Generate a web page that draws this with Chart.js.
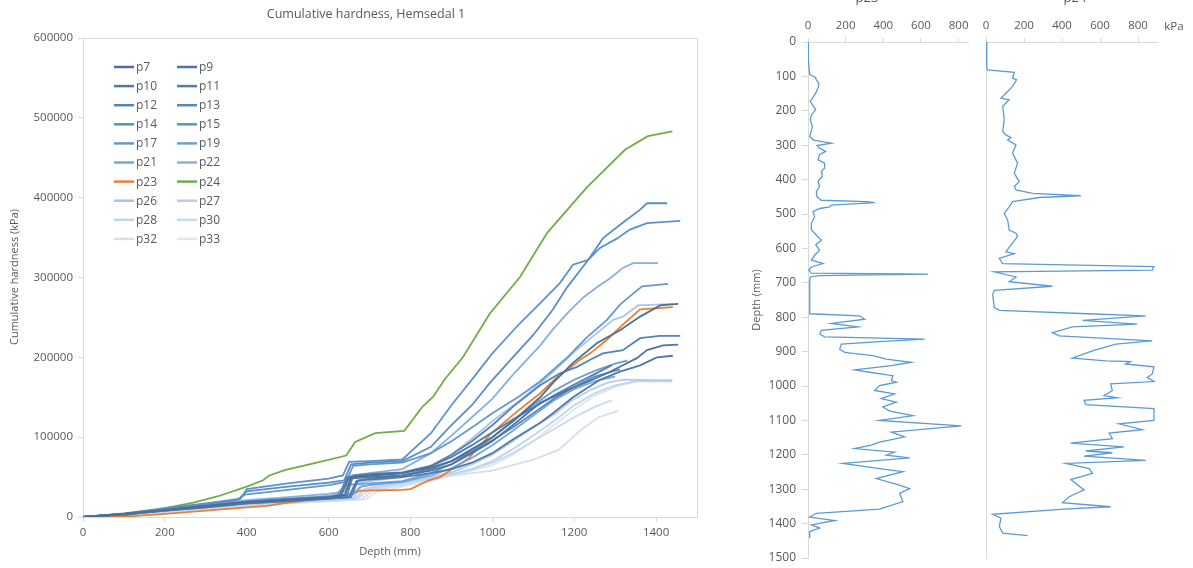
<!DOCTYPE html>
<html>
<head>
<meta charset="utf-8">
<script src="https://cdn.jsdelivr.net/npm/chart.js@4/dist/chart.umd.min.js"></script>
<style>
  html, body { margin: 0; padding: 0; background: #fff; overflow: hidden; }
  #wrap { position: relative; width: 1193px; height: 568px; }
  canvas { position: absolute; top: 0; }
</style>
</head>
<body>
<div id="wrap">
  <canvas id="cum" width="740" height="568" style="left:0"></canvas>
  <canvas id="prof23" width="237" height="568" style="left:740px"></canvas>
  <canvas id="prof24" width="216" height="568" style="left:977px"></canvas>
</div>
<script>
// cumulative hardness per pit, [depth mm, kPa]
const p7 = [[0,0],[100,4000],[200,9000],[300,14000],[400,19000],[500,22000],[600,25000],[640,28000],[655,50000],[700,52000],[780,55000],[850,62000],[900,70000],[950,85000],[1000,100000],[1050,120000],[1117,150000],[1148,168000],[1197,193000],[1256,218000],[1312,234000],[1361,251000],[1410,265000],[1454,267000]];
const p9 = [[0,0],[100,3500],[200,8500],[300,13000],[400,18000],[500,21000],[600,24000],[630,26000],[648,48000],[700,50000],[780,52000],[850,58000],[900,66000],[950,80000],[1000,95000],[1050,115000],[1117,143000],[1183,159000],[1231,169000],[1280,180000],[1319,190000],[1353,199000],[1378,209000],[1417,215000],[1454,216000]];
const p10 = [[0,0],[100,3000],[200,8000],[300,12000],[400,17000],[500,20000],[600,23000],[650,25000],[668,45000],[700,47000],[780,50000],[850,55000],[900,60000],[950,68000],[1000,80000],[1050,97000],[1117,118000],[1148,130000],[1197,150000],[1263,172000],[1312,182000],[1361,190000],[1402,200000],[1441,202000]];
const p11 = [[0,0],[100,4000],[200,9000],[300,14000],[400,19000],[500,22000],[600,25000],[645,27000],[660,52000],[700,54000],[780,56000],[850,64000],[900,75000],[950,90000],[1000,106000],[1050,122000],[1100,137000],[1150,152000],[1200,166000],[1250,179000],[1292,190000]];
const p12 = [[0,0],[100,3500],[200,8000],[300,13000],[400,18000],[500,21000],[600,24000],[625,25500],[645,50000],[700,52000],[780,55000],[850,64000],[900,78000],[950,95000],[1000,115000],[1050,138000],[1117,165000],[1165,180000],[1207,188000],[1239,197000],[1270,205000],[1319,209000],[1336,215000],[1361,224000],[1409,227000],[1459,227000]];
const p13 = [[0,0],[100,3000],[200,8000],[300,12000],[400,17000],[500,20000],[600,23000],[655,25000],[672,46000],[700,48000],[780,52000],[850,60000],[900,70000],[950,82000],[1000,96000],[1050,112000],[1100,130000],[1150,148000],[1200,163000],[1250,176000],[1312,185000]];
const p14 = [[0,0],[100,4000],[200,10000],[300,16000],[380,22000],[400,32000],[500,38000],[600,43000],[638,46000],[655,66000],[700,68000],[780,70000],[850,88000],[900,115000],[950,140000],[994,168000],[1050,200000],[1100,228000],[1148,260000],[1183,288000],[1234,322000],[1270,349000],[1312,366000],[1361,385000],[1378,393000],[1427,393000]];
const p15 = [[0,0],[100,4500],[200,11000],[300,17000],[385,23000],[400,35000],[500,42000],[600,48000],[635,52000],[650,69000],[700,70000],[780,72000],[850,105000],[900,140000],[950,172000],[1000,205000],[1068,243000],[1117,268000],[1165,293000],[1197,316000],[1234,322000],[1263,337000],[1305,349000],[1336,360000],[1378,368000],[1459,371000]];
const p17 = [[0,0],[100,4000],[200,9500],[300,15000],[375,21000],[395,28000],[500,34000],[600,40000],[642,44000],[660,64000],[700,66000],[780,68000],[850,80000],[900,95000],[950,112000],[1000,130000],[1068,152000],[1117,170000],[1183,200000],[1231,225000],[1280,247000],[1312,266000],[1349,282000],[1366,289000],[1429,292000]];
const p19 = [[0,0],[100,4000],[200,9500],[300,15000],[400,20000],[500,23000],[600,26000],[620,28000],[640,40000],[700,42000],[780,45000],[850,55000],[900,66000],[950,82000],[1000,100000],[1050,120000],[1100,140000],[1150,158000],[1200,172000],[1250,183000],[1300,192000],[1330,196000]];
const p21 = [[0,0],[100,4000],[200,9000],[300,14000],[400,19000],[500,22000],[600,26000],[660,28500],[678,38000],[700,40000],[780,44000],[850,52000],[900,61000],[950,74000],[1000,90000],[1050,108000],[1100,127000],[1150,146000],[1200,160000],[1250,170000],[1300,176000]];
const p22 = [[0,0],[100,4000],[200,9000],[300,15000],[400,21000],[500,25000],[600,29000],[640,32000],[655,52000],[700,55000],[780,60000],[850,80000],[900,102000],[950,125000],[1000,148000],[1050,178000],[1117,215000],[1148,235000],[1183,255000],[1222,275000],[1256,288000],[1288,299000],[1319,312000],[1344,318000],[1405,318000]];
const p23 = [[0,0],[95,200],[200,4000],[300,8000],[400,12000],[450,14000],[500,18000],[600,24000],[640,27000],[680,33000],[780,34000],[800,35000],[845,46000],[872,50000],[943,74000],[998,105000],[1060,132000],[1117,155000],[1158,175000],[1183,184000],[1214,197000],[1239,205000],[1280,222000],[1317,240000],[1361,260000],[1441,263000]];
const p24 = [[0,0],[85,300],[150,6000],[200,11000],[270,18000],[330,26000],[400,38000],[440,46000],[455,52000],[495,59000],[561,67000],[643,77000],[665,94000],[714,105000],[785,108000],[829,138000],[856,151000],[883,172000],[928,200000],[994,255000],[1068,301000],[1134,356000],[1231,413000],[1324,460000],[1380,477000],[1440,483000]];
const p26 = [[0,0],[100,3500],[200,8500],[300,13000],[400,18000],[500,21000],[600,24000],[650,26000],[665,42000],[700,45000],[780,50000],[850,62000],[900,78000],[950,98000],[1000,120000],[1075,149000],[1134,175000],[1214,213000],[1295,247000],[1319,251000],[1356,265000],[1442,267000]];
const p27 = [[0,0],[100,3000],[200,7500],[300,12000],[400,16000],[500,19000],[600,22000],[660,24000],[680,38000],[700,40000],[780,44000],[850,50000],[900,56000],[950,66000],[1000,78000],[1050,95000],[1100,112000],[1150,128000],[1197,147000],[1239,159000],[1280,168000],[1319,172000],[1439,171000]];
const p28 = [[0,0],[100,3000],[200,7000],[300,11000],[400,15000],[500,18000],[600,21000],[665,23000],[690,36000],[720,38000],[780,42000],[850,48000],[900,53000],[950,60000],[1000,70000],[1050,85000],[1100,102000],[1150,120000],[1200,140000],[1250,155000],[1300,165000],[1350,170000],[1440,170000]];
const p30 = [[0,0],[100,3000],[200,7000],[300,11000],[400,15000],[500,18000],[600,21000],[670,23000],[700,35000],[730,37000],[780,42000],[850,48000],[900,54000],[950,60000],[1000,68000],[1050,80000],[1100,95000],[1150,110000],[1200,125000],[1250,138000],[1292,146000]];
const p32 = [[0,0],[100,2500],[200,6500],[300,10000],[400,14000],[500,17000],[600,20000],[680,22000],[710,34000],[740,36000],[780,40000],[850,47000],[900,52000],[950,55000],[1000,58000],[1050,65000],[1100,72000],[1162,84000],[1216,109000],[1260,125000],[1307,133000]];
const p33 = [[0,0],[100,2500],[200,6000],[300,10000],[400,14000],[500,17000],[600,20000],[690,22000],[720,32000],[750,34000],[780,38000],[850,45000],[900,52000],[950,58000],[1000,65000],[1050,78000],[1100,95000],[1150,115000],[1200,135000],[1250,152000],[1300,163000],[1350,170000],[1440,172000]];

const pitLabels = ['p7','p9','p10','p11','p12','p13','p14','p15','p17','p19','p21','p22','p23','p24','p26','p27','p28','p30','p32','p33'];
const pitSeries = [p7,p9,p10,p11,p12,p13,p14,p15,p17,p19,p21,p22,p23,p24,p26,p27,p28,p30,p32,p33];

// tick positions
const depthTicks = [0,200,400,600,800,1000,1200,1400];
const kpaTicks = [0,200,400,600,800];

// hardness profiles, [depth mm, kPa]
const prof23 = [[0,0],[50,2],[95,9],[103,40],[110,44],[119,57],[130,56],[145,44],[158,30],[173,12],[188,30],[197,41],[212,18],[226,12],[246,23],[265,14],[275,9],[285,30],[294,124],[301,48],[308,58],[318,94],[327,62],[342,53],[352,88],[367,88],[376,71],[391,76],[405,53],[420,62],[435,44],[450,48],[460,71],[464,310],[467,354],[474,124],[479,115],[484,62],[493,27],[508,35],[527,18],[546,18],[561,44],[576,71],[590,41],[605,62],[620,35],[634,18],[644,80],[654,18],[663,4],[672,18],[675,637],[679,62],[683,12],[700,9],[790,9],[796,274],[806,301],[818,124],[828,265],[838,71],[849,62],[857,88],[864,620],[871,380],[878,177],[893,168],[902,195],[912,345],[922,416],[931,549],[941,443],[953,248],[960,327],[970,451],[984,443],[989,469],[999,380],[1013,354],[1023,460],[1037,389],[1047,469],[1061,398],[1073,434],[1086,558],[1100,380],[1116,814],[1134,443],[1148,513],[1163,380],[1172,336],[1182,248],[1192,460],[1201,416],[1209,540],[1225,186],[1240,380],[1249,504],[1269,363],[1285,469],[1298,540],[1312,487],[1336,504],[1358,380],[1370,44],[1381,9],[1391,142],[1404,18],[1413,62],[1423,9],[1442,9]];
const prof24 = [[0,0],[76,4],[81,9],[88,149],[105,140],[110,161],[129,140],[149,105],[163,79],[168,122],[187,88],[226,96],[260,88],[270,105],[278,131],[285,114],[299,158],[323,140],[352,166],[382,149],[406,175],[420,149],[430,158],[440,245],[447,499],[452,280],[464,140],[479,122],[498,96],[518,114],[547,122],[556,158],[566,166],[590,131],[610,105],[615,149],[629,70],[644,88],[653,884],[663,875],[668,44],[683,158],[697,122],[710,350],[722,44],[734,35],[772,44],[780,70],[790,534],[796,840],[809,508],[820,796],[828,455],[845,350],[854,385],[869,875],[878,683],[898,560],[919,455],[927,630],[929,761],[936,735],[944,884],[965,875],[975,849],[987,884],[994,656],[1013,665],[1028,621],[1034,691],[1042,516],[1054,525],[1066,884],[1100,884],[1110,700],[1127,823],[1137,648],[1153,665],[1166,446],[1177,726],[1189,525],[1194,665],[1204,516],[1216,840],[1225,420],[1240,543],[1254,560],[1272,446],[1302,516],[1322,438],[1339,403],[1351,656],[1358,411],[1373,35],[1384,79],[1408,70],[1428,88],[1435,219]];

const pitColors = ['#4d6f95','#4f74a0','#5079a8','#527eaf','#5483b7','#5688bd','#5a8ec4','#5e93c9','#6499ce','#6b9fd3','#74a5d7','#86b1de','#ed7d31','#70ad47','#abc6e6','#b6cdea','#c0d4ed','#c9daf0','#d2e0f3','#dbe6f5'];

const FONT = '"Open Sans", "Liberation Sans", sans-serif';
const GREY = '#595959';
const AXIS = '#d9d9d9';

const toXY = pts => pts.map(p => ({ x: p[0], y: p[1] }));
const toProfile = pts => pts.map(p => ({ x: p[1], y: p[0] }));
const plain = v => String(v);
const fixedTicks = values => s => { s.ticks = values.map(v => ({ value: v })); };

// free text drawn straight on the canvas
function textPlugin(items) {
  return {
    id: 'texts',
    afterDraw(chart) {
      const ctx = chart.ctx;
      items.forEach(t => {
        ctx.save();
        ctx.font = (t.size || 12) + 'px ' + FONT;
        ctx.fillStyle = t.color || GREY;
        ctx.textAlign = t.align || 'center';
        ctx.textBaseline = t.baseline || 'middle';
        ctx.translate(t.x, t.y);
        if (t.rot) ctx.rotate(t.rot);
        ctx.fillText(t.text, 0, 0);
        ctx.restore();
      });
    }
  };
}

// plot frame on the top and right sides
const framePlugin = {
  id: 'frame',
  beforeDatasetsDraw(chart) {
    const { ctx, chartArea: a } = chart;
    ctx.save();
    ctx.strokeStyle = AXIS;
    ctx.lineWidth = 1;
    ctx.beginPath();
    ctx.moveTo(a.left, a.top + 0.5);
    ctx.lineTo(a.right + 0.5, a.top + 0.5);
    ctx.lineTo(a.right + 0.5, a.bottom);
    ctx.stroke();
    ctx.restore();
  }
};

// two-column legend, filled row by row
const gridLegend = {
  id: 'gridLegend',
  afterDraw(chart) {
    const ctx = chart.ctx;
    ctx.save();
    ctx.font = '12px ' + FONT;
    ctx.textBaseline = 'middle';
    ctx.textAlign = 'left';
    chart.data.datasets.forEach((ds, i) => {
      const x = i % 2 ? 177 : 114;
      const y = 67 + Math.floor(i / 2) * 19.1;
      ctx.strokeStyle = ds.borderColor;
      ctx.lineWidth = 2.5;
      ctx.beginPath();
      ctx.moveTo(x, y);
      ctx.lineTo(x + 20, y);
      ctx.stroke();
      ctx.fillStyle = GREY;
      ctx.fillText(ds.label, x + 22, y + 0.5);
    });
    ctx.restore();
  }
};

const tickFont = { family: FONT, size: 11.5 };

new Chart(document.getElementById('cum'), {
  type: 'scatter',
  data: {
    datasets: pitSeries.map((s, i) => ({
      label: pitLabels[i],
      data: toXY(s),
      showLine: true,
      borderColor: pitColors[i],
      borderWidth: 1.8,
      pointRadius: 0
    }))
  },
  options: {
    responsive: false,
    animation: false,
    layout: { padding: { top: 38, right: 43, left: 0, bottom: 0 } },
    plugins: { legend: { display: false }, tooltip: { enabled: false } },
    elements: { line: { tension: 0 } },
    scales: {
      x: {
        type: 'linear', min: 0, max: 1500,
        ticks: { color: GREY, font: tickFont, padding: 4, maxRotation: 0, autoSkip: false, callback: plain },
        grid: { drawOnChartArea: false, tickLength: 5, color: AXIS },
        border: { color: AXIS },
        afterBuildTicks: fixedTicks(depthTicks),
        afterFit: s => { s.height = 51; }
      },
      y: {
        type: 'linear', min: 0, max: 600000,
        ticks: { stepSize: 100000, color: GREY, font: tickFont, padding: 5, autoSkip: false, callback: plain },
        grid: { drawOnChartArea: false, tickLength: 5, color: AXIS },
        border: { color: AXIS },
        afterFit: s => { s.width = 83; }
      }
    }
  },
  plugins: [framePlugin, gridLegend, textPlugin([
    { text: 'Cumulative hardness, Hemsedal 1', x: 366, y: 14, size: 12.5 },
    { text: 'Depth (mm)', x: 390, y: 552, size: 11 },
    { text: 'Cumulative hardness (kPa)', x: 15, y: 277, size: 11, rot: -Math.PI / 2 }
  ])]
});

function profileChart(id, pts, kpaMax, withDepthLabels, texts) {
  return new Chart(document.getElementById(id), {
    type: 'scatter',
    data: {
      datasets: [{
        data: toProfile(pts),
        showLine: true,
        borderColor: '#5b9bd5',
        borderWidth: 1.3,
        pointRadius: 0
      }]
    },
    options: {
      responsive: false,
      animation: false,
      layout: { padding: { top: 0, left: 0, right: withDepthLabels ? 9 : 36, bottom: 10 } },
      plugins: { legend: { display: false }, tooltip: { enabled: false } },
      elements: { line: { tension: 0 } },
      scales: {
        x: {
          type: 'linear', position: 'top', min: 0, max: kpaMax,
          ticks: { color: GREY, font: tickFont, padding: 5, maxRotation: 0, autoSkip: false, callback: plain },
          grid: { drawOnChartArea: false, tickLength: 4, color: AXIS },
          border: { color: AXIS },
          afterBuildTicks: fixedTicks(kpaTicks),
          afterFit: s => { s.height = 42; s.paddingLeft = 0; s.paddingRight = 0; }
        },
        y: {
          type: 'linear', reverse: true, min: 0, max: 1500,
          ticks: { display: withDepthLabels, stepSize: 100, color: GREY, font: { family: FONT, size: 12 }, padding: 6, autoSkip: false, callback: plain },
          grid: { drawOnChartArea: false, drawTicks: withDepthLabels, tickLength: 6, color: AXIS },
          border: { color: AXIS },
          afterFit: s => { s.width = withDepthLabels ? 68 : 9; s.paddingTop = 0; s.paddingBottom = 0; }
        }
      }
    },
    plugins: [textPlugin(texts)]
  });
}

profileChart('prof23', prof23, 850, true, [
  { text: 'p23', x: 127, y: 2, size: 13, baseline: 'alphabetic' },
  { text: 'Depth (mm)', x: 17, y: 300, size: 11, rot: -Math.PI / 2 }
]);
profileChart('prof24', prof24, 900, false, [
  { text: 'p24', x: 98, y: 2, size: 13, baseline: 'alphabetic' },
  { text: 'kPa', x: 197, y: 27, size: 11.5 }
]);
</script>
</body>
</html>
